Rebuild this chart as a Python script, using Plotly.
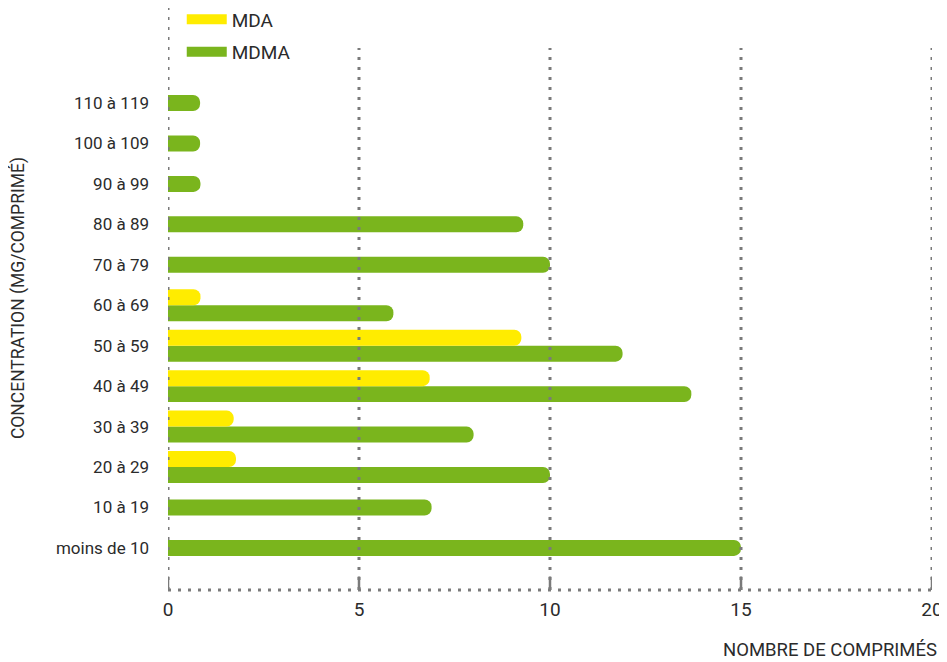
import plotly.graph_objects as go

categories = ["moins de 10", "10 à 19", "20 à 29", "30 à 39", "40 à 49", "50 à 59",
              "60 à 69", "70 à 79", "80 à 89", "90 à 99", "100 à 109", "110 à 119"]
mdma = [15, 6.9, 10, 8, 13.7, 11.9, 5.9, 10, 9.3, 0.85, 0.84, 0.84]
mda = [None, None, 1.78, 1.72, 6.85, 9.25, 0.85, None, None, None, None, None]
x_ticks = [0, 5, 10, 15, 20]

YELLOW = "#FFEC00"
GREEN = "#7AB51D"
GRID = "#7a7a7a"
TEXT = "#2b2b2b"
FONT = "Roboto"

# bar thickness in category units; MDMA centred when alone, below MDA when paired
W = 0.395
mdma_offset = [-W if v is not None else -W / 2 for v in mda]

fig = go.Figure()
fig.add_trace(go.Bar(y=categories, x=mdma, orientation="h", name="MDMA", showlegend=False,
                     width=W, offset=mdma_offset,
                     marker=dict(color=GREEN, line=dict(width=0)), hoverinfo="skip"))
fig.add_trace(go.Bar(y=categories, x=mda, orientation="h", name="MDA", showlegend=False,
                     width=W, offset=0,
                     marker=dict(color=YELLOW, line=dict(width=0)), hoverinfo="skip"))
# legend entries (empty traces drawn only as legend swatches)
for name, col in [("MDA", YELLOW), ("MDMA", GREEN)]:
    fig.add_trace(go.Scatter(x=[None], y=[None], mode="lines", name=name, legendgroup=name,
                             line=dict(color=col, width=10), hoverinfo="skip"))

# dotted grid lines above bars
for t in x_ticks:
    fig.add_shape(type="line", xref="x", yref="paper", x0=t, x1=t, y0=0,
                  y1=1.0886 if t == 0 else 1.0,
                  line=dict(color=GRID, width=3, dash="3px,7px"), layer="above")
    fig.add_shape(type="line", xref="x", yref="paper", x0=t, x1=t, y0=0, y1=0.025,
                  line=dict(color=GRID, width=2.5), layer="above")
fig.add_shape(type="line", xref="paper", yref="paper", x0=0, x1=1, y0=0, y1=0,
              line=dict(color=GRID, width=3, dash="3px,7px"), layer="above")

fig.add_annotation(text="NOMBRE DE COMPRIMÉS", xref="paper", yref="paper",
                   x=1, xshift=7, y=-0.111, xanchor="right", yanchor="middle",
                   showarrow=False, font=dict(family=FONT, size=18.5, color=TEXT))
fig.add_annotation(text="CONCENTRATION (MG/COMPRIMÉ)", xref="paper", yref="paper",
                   x=-0.196, y=0.539, textangle=-90, xanchor="center", yanchor="middle",
                   showarrow=False, font=dict(family=FONT, size=17.5, color=TEXT))

fig.update_layout(
    width=939, height=654,
    margin=dict(l=160, r=15, t=40, b=72, autoexpand=False),
    paper_bgcolor="white", plot_bgcolor="white",
    barmode="overlay", barcornerradius="50%",
    font=dict(family=FONT, color=TEXT),
    showlegend=True,
    legend=dict(x=0.018, y=1.088, xanchor="left", yanchor="top", traceorder="grouped",
                font=dict(family=FONT, size=19, color=TEXT), bgcolor="rgba(0,0,0,0)",
                itemwidth=40, tracegroupgap=5),
    xaxis=dict(range=[0, 20], tickvals=x_ticks, showgrid=False, zeroline=False,
               showline=False, ticks="", ticklabelstandoff=6,
               tickfont=dict(family=FONT, size=19, color=TEXT)),
    yaxis=dict(type="category", categoryorder="array", categoryarray=categories,
               range=[-1.04, 12.36], showgrid=False, zeroline=False, showline=False,
               ticks="", ticklabelstandoff=18,
               tickfont=dict(family=FONT, size=17, color=TEXT)),
    hovermode=False,
)

fig.write_html("out.html")
